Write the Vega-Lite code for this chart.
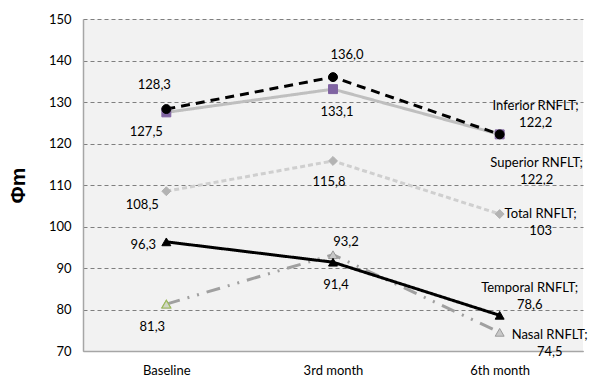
{
  "$schema": "https://vega.github.io/schema/vega-lite/v6.json",
  "width": 500,
  "height": 332,
  "autosize": {"type": "none"},
  "padding": {"left": 83, "top": 19, "right": 17, "bottom": 31},
  "background": "white",
  "config": {
    "font": "Lato",
    "view": {"fill": "#f2f2f2", "stroke": null},
    "axis": {"labelFont": "Lato", "labelFontSize": 13, "labelColor": "#000000"},
    "text": {"fontSize": 13, "lineBreak": "\n", "lineHeight": 17, "font": "Lato", "color": "#000000"}
  },
  "data": {
    "values": [
      {"time": "Baseline", "series": "Nasal RNFLT", "value": 81.3},
      {"time": "3rd month", "series": "Nasal RNFLT", "value": 93.2},
      {"time": "6th month", "series": "Nasal RNFLT", "value": 74.5},
      {"time": "Baseline", "series": "Temporal RNFLT", "value": 96.3},
      {"time": "3rd month", "series": "Temporal RNFLT", "value": 91.4},
      {"time": "6th month", "series": "Temporal RNFLT", "value": 78.6},
      {"time": "Baseline", "series": "Total RNFLT", "value": 108.5},
      {"time": "3rd month", "series": "Total RNFLT", "value": 115.8},
      {"time": "6th month", "series": "Total RNFLT", "value": 103},
      {"time": "Baseline", "series": "Superior RNFLT", "value": 127.5},
      {"time": "3rd month", "series": "Superior RNFLT", "value": 133.1},
      {"time": "6th month", "series": "Superior RNFLT", "value": 122.2},
      {"time": "Baseline", "series": "Inferior RNFLT", "value": 128.3},
      {"time": "3rd month", "series": "Inferior RNFLT", "value": 136.0},
      {"time": "6th month", "series": "Inferior RNFLT", "value": 122.2}
    ]
  },
  "encoding": {
    "x": {
      "field": "time", "type": "ordinal",
      "scale": {"type": "point", "padding": 0.5, "domain": ["Baseline", "3rd month", "6th month"]},
      "axis": {"title": null, "labelAngle": 0, "ticks": false, "labelPadding": 13, "domainColor": "#a6a6a6", "domainWidth": 1.5, "grid": false}
    },
    "y": {
      "field": "value", "type": "quantitative",
      "scale": {"domain": [70, 150], "nice": false, "zero": false},
      "axis": {
        "title": "Φm", "titleFontSize": 21, "titleFontWeight": "bold", "titleFont": "Liberation Sans", "titlePadding": 20, "titleColor": "#000000",
        "values": [70, 80, 90, 100, 110, 120, 130, 140, 150],
        "ticks": false, "labelPadding": 12,
        "gridColor": "#7f7f7f", "gridDash": [4, 3], "gridWidth": 1,
        "domainColor": "#a6a6a6", "domainWidth": 1.5
      }
    }
  },
  "layer": [
    {
      "mark": {"type": "line", "strokeWidth": 3},
      "encoding": {
        "color": {
          "field": "series", "type": "nominal", "legend": null,
          "scale": {
            "domain": ["Nasal RNFLT", "Temporal RNFLT", "Total RNFLT", "Superior RNFLT", "Inferior RNFLT"],
            "range": ["#a0a0a0", "#000000", "#cfcfcf", "#bfbfbf", "#000000"]
          }
        },
        "strokeDash": {
          "field": "series", "type": "nominal", "legend": null,
          "scale": {
            "domain": ["Nasal RNFLT", "Temporal RNFLT", "Total RNFLT", "Superior RNFLT", "Inferior RNFLT"],
            "range": [[14, 8, 2, 8, 2, 8], [1, 0], [5, 3], [1, 0], [9, 6]]
          }
        }
      }
    },
    {
      "mark": {"type": "point", "filled": true, "opacity": 1, "strokeWidth": 1},
      "encoding": {
        "shape": {
          "field": "series", "type": "nominal", "legend": null,
          "scale": {
            "domain": ["Nasal RNFLT", "Temporal RNFLT", "Total RNFLT", "Superior RNFLT", "Inferior RNFLT"],
            "range": ["triangle-up", "triangle-up", "diamond", "square", "circle"]
          }
        },
        "fill": {
          "field": "series", "type": "nominal", "legend": null,
          "scale": {
            "domain": ["Nasal RNFLT", "Temporal RNFLT", "Total RNFLT", "Superior RNFLT", "Inferior RNFLT"],
            "range": ["#c8c8c8", "#000000", "#b3b3b3", "#8064a2", "#000000"]
          }
        },
        "stroke": {
          "field": "series", "type": "nominal", "legend": null,
          "scale": {
            "domain": ["Nasal RNFLT", "Temporal RNFLT", "Total RNFLT", "Superior RNFLT", "Inferior RNFLT"],
            "range": ["#9a9a9a", "#000000", "#b3b3b3", "#8064a2", "#000000"]
          }
        },
        "size": {
          "field": "series", "type": "nominal", "legend": null,
          "scale": {
            "domain": ["Nasal RNFLT", "Temporal RNFLT", "Total RNFLT", "Superior RNFLT", "Inferior RNFLT"],
            "range": [80, 80, 50, 60, 115]
          }
        }
      }
    },
    {
      "transform": [{"filter": "datum.series == 'Nasal RNFLT' && datum.time == 'Baseline'"}],
      "mark": {"type": "point", "shape": "triangle-up", "filled": true, "fill": "#d0d6c4", "stroke": "#9bbb59", "strokeWidth": 1.2, "size": 80, "opacity": 1}
    },
    {
      "transform": [
        {"calculate": "datum.time == '6th month' ? datum.series + ';\\n' + replace(toString(datum.value), '.', ',') : replace(format(datum.value, '.1f'), '.', ',')", "as": "label"}
      ],
      "encoding": {"text": {"field": "label", "type": "nominal"}},
      "layer": [
        {"transform": [{"filter": "datum.series == 'Inferior RNFLT' && datum.time == 'Baseline'"}], "mark": {"type": "text", "dx": -12, "dy": -24}},
        {"transform": [{"filter": "datum.series == 'Superior RNFLT' && datum.time == 'Baseline'"}], "mark": {"type": "text", "dx": -20, "dy": 20}},
        {"transform": [{"filter": "datum.series == 'Total RNFLT' && datum.time == 'Baseline'"}], "mark": {"type": "text", "dx": -24, "dy": 14}},
        {"transform": [{"filter": "datum.series == 'Temporal RNFLT' && datum.time == 'Baseline'"}], "mark": {"type": "text", "dx": -23, "dy": 3}},
        {"transform": [{"filter": "datum.series == 'Nasal RNFLT' && datum.time == 'Baseline'"}], "mark": {"type": "text", "dx": -14, "dy": 23}},
        {"transform": [{"filter": "datum.series == 'Inferior RNFLT' && datum.time == '3rd month'"}], "mark": {"type": "text", "dx": 14, "dy": -22}},
        {"transform": [{"filter": "datum.series == 'Superior RNFLT' && datum.time == '3rd month'"}], "mark": {"type": "text", "dx": 4, "dy": 23}},
        {"transform": [{"filter": "datum.series == 'Total RNFLT' && datum.time == '3rd month'"}], "mark": {"type": "text", "dx": -4, "dy": 21}},
        {"transform": [{"filter": "datum.series == 'Nasal RNFLT' && datum.time == '3rd month'"}], "mark": {"type": "text", "dx": 13, "dy": -13}},
        {"transform": [{"filter": "datum.series == 'Temporal RNFLT' && datum.time == '3rd month'"}], "mark": {"type": "text", "dx": 3, "dy": 23}},
        {"transform": [{"filter": "datum.series == 'Inferior RNFLT' && datum.time == '6th month'"}], "mark": {"type": "text", "dx": 36, "dy": -28}},
        {"transform": [{"filter": "datum.series == 'Superior RNFLT' && datum.time == '6th month'"}], "mark": {"type": "text", "dx": 37, "dy": 29}},
        {"transform": [{"filter": "datum.series == 'Total RNFLT' && datum.time == '6th month'"}], "mark": {"type": "text", "dx": 41, "dy": 0}},
        {"transform": [{"filter": "datum.series == 'Temporal RNFLT' && datum.time == '6th month'"}], "mark": {"type": "text", "dx": 30, "dy": -27}},
        {"transform": [{"filter": "datum.series == 'Nasal RNFLT' && datum.time == '6th month'"}], "mark": {"type": "text", "dx": 50, "dy": 3}}
      ]
    }
  ]
}
